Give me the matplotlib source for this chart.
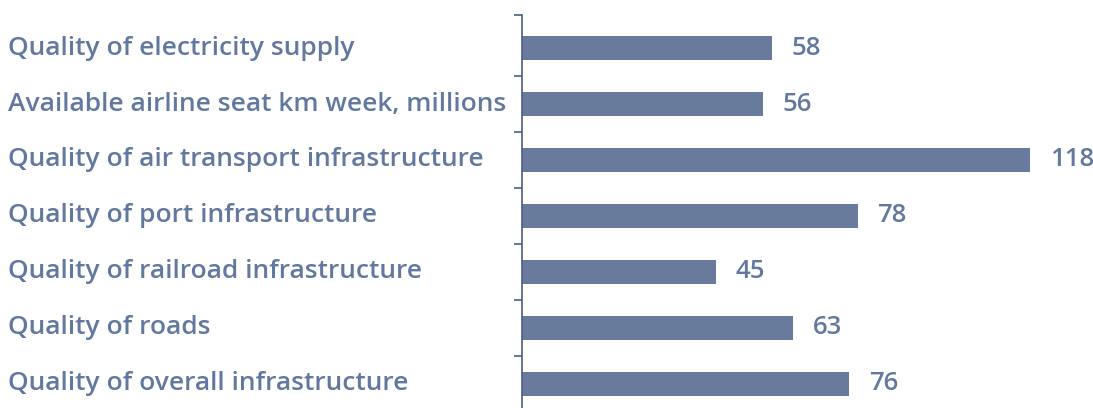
import matplotlib
matplotlib.use('Agg')
import matplotlib.pyplot as plt
import matplotlib.transforms as mtransforms

plt.rcParams['font.family'] = ['Open Sans', 'DejaVu Sans']

# data (top to bottom as in the chart)
categories = [
    'Quality of electricity supply',
    'Available airline seat km week, millions',
    'Quality of air transport infrastructure',
    'Quality of port infrastructure',
    'Quality of railroad infrastructure',
    'Quality of roads',
    'Quality of overall infrastructure',
]
values = [58, 56, 118, 78, 45, 63, 76]

bar_color = '#687b9c'
text_color = '#62789f'

fig = plt.figure(figsize=(10.93, 4.08), dpi=100)
ax = fig.add_axes([522 / 1093, 0, 1 - 522 / 1093, 1 - 15 / 408])

n = len(categories)
ypos = list(range(n - 1, -1, -1))
ax.barh(ypos, values, height=0.43, color=bar_color)

ax.set_xlim(0, 132.6)
ax.set_ylim(-0.43, 6.59)

for y, v in zip(ypos, values):
    ax.annotate(str(v), xy=(v, y), xytext=(14, 0), textcoords='offset points',
                ha='left', va='center', fontsize=18.5, color=text_color,
                fontweight='semibold')

trans = mtransforms.blended_transform_factory(fig.transFigure, ax.transData)
for y, lab in zip(ypos, categories):
    ax.text(8 / 1093, y, lab, transform=trans, ha='left', va='center',
            fontsize=19, color=text_color, fontweight='semibold', clip_on=False)

# axis with ticks between categories
for s in ['top', 'right', 'bottom']:
    ax.spines[s].set_visible(False)
ax.spines['left'].set_color('#4a5f80')
ax.spines['left'].set_linewidth(1.2)
ax.set_xticks([])
ax.set_yticks([i + 0.5 for i in range(n - 1)] + [6.59])
ax.set_yticklabels([])
ax.tick_params(axis='y', direction='out', length=6, width=1.2, color='#4a5f80')

plt.savefig('out.png', dpi=100)
